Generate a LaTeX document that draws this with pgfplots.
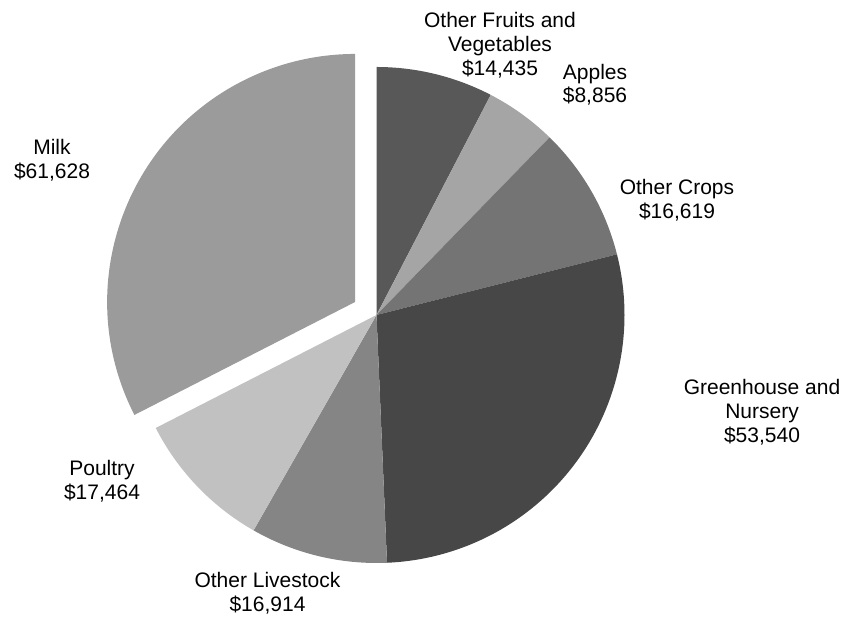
\documentclass[border=0pt]{standalone}
\usepackage{pgfplots}
\pgfplotsset{compat=1.18}
\usepackage{pgfplotstable}
\usepackage{fontspec}
\setmainfont{Liberation Sans}

\definecolor{cOFV}{HTML}{585858}
\definecolor{cApp}{HTML}{A5A5A5}
\definecolor{cOC}{HTML}{747474}
\definecolor{cGH}{HTML}{474747}
\definecolor{cOL}{HTML}{858585}
\definecolor{cPou}{HTML}{C1C1C1}
\definecolor{cMilk}{HTML}{9B9B9B}

% sales in thousand dollars, clockwise from 12 o'clock
\pgfplotstableread{
value
14435
8856
16619
53540
16914
17464
61628
}\piedata

\begin{document}
\begin{tikzpicture}[lbl/.style={font=\fontsize{21}{24}\selectfont, anchor=base, inner sep=0pt}]
% cumulative angles
\gdef\total{0}
\pgfplotstableforeachcolumnelement{value}\of\piedata\as\v{%
  \xdef\total{\fpeval{\total+\v}}}
\gdef\cum{0}
\pgfplotstableforeachcolumnelement{value}\of\piedata\as\v{%
  \expandafter\xdef\csname sa\pgfplotstablerow\endcsname{\fpeval{90-\cum*360/\total}}%
  \xdef\cum{\fpeval{\cum+\v}}%
  \expandafter\xdef\csname ea\pgfplotstablerow\endcsname{\fpeval{90-\cum*360/\total}}}
\def\cx{376.5}\def\cy{302}\def\rad{248}
% exploded milk slice centre
\xdef\mx{\fpeval{\cx+25*cosd((\csname sa6\endcsname+\csname ea6\endcsname)/2)}}
\xdef\my{\fpeval{\cy+25*sind((\csname sa6\endcsname+\csname ea6\endcsname)/2)}}

\newcommand\slice[4]{%
  \fill[#2] (axis cs:#3,#4) -- ++(\csname sa#1\endcsname:\rad pt)
    arc[start angle=\csname sa#1\endcsname, end angle=\csname ea#1\endcsname, radius=\rad pt] -- cycle;}

\begin{axis}[
    x=1pt, y=1pt,
    xmin=0, xmax=845, ymin=0, ymax=617,
    enlargelimits=false,
    hide axis,
    clip=false,
]
\slice{0}{cOFV}{\cx}{\cy}
\slice{1}{cApp}{\cx}{\cy}
\slice{2}{cOC}{\cx}{\cy}
\slice{3}{cGH}{\cx}{\cy}
\slice{4}{cOL}{\cx}{\cy}
\slice{5}{cPou}{\cx}{\cy}
\slice{6}{cMilk}{\mx}{\my}

\node[lbl] at (axis cs:500,589) {Other Fruits and};
\node[lbl] at (axis cs:500,565) {Vegetables};
\node[lbl] at (axis cs:500,541) {\$14,435};
\node[lbl] at (axis cs:595,537) {Apples};
\node[lbl] at (axis cs:595,514) {\$8,856};
\node[lbl] at (axis cs:677,422) {Other Crops};
\node[lbl] at (axis cs:677,398) {\$16,619};
\node[lbl] at (axis cs:762,222) {Greenhouse and};
\node[lbl] at (axis cs:762,198) {Nursery};
\node[lbl] at (axis cs:762,174) {\$53,540};
\node[lbl] at (axis cs:267.5,29) {Other Livestock};
\node[lbl] at (axis cs:267.5,5) {\$16,914};
\node[lbl] at (axis cs:102,141) {Poultry};
\node[lbl] at (axis cs:102,117) {\$17,464};
\node[lbl] at (axis cs:52,462) {Milk};
\node[lbl] at (axis cs:52,438) {\$61,628};
\end{axis}
\pgfresetboundingbox
\path (current axis.south west) rectangle (current axis.north east);
\end{tikzpicture}
\end{document}
